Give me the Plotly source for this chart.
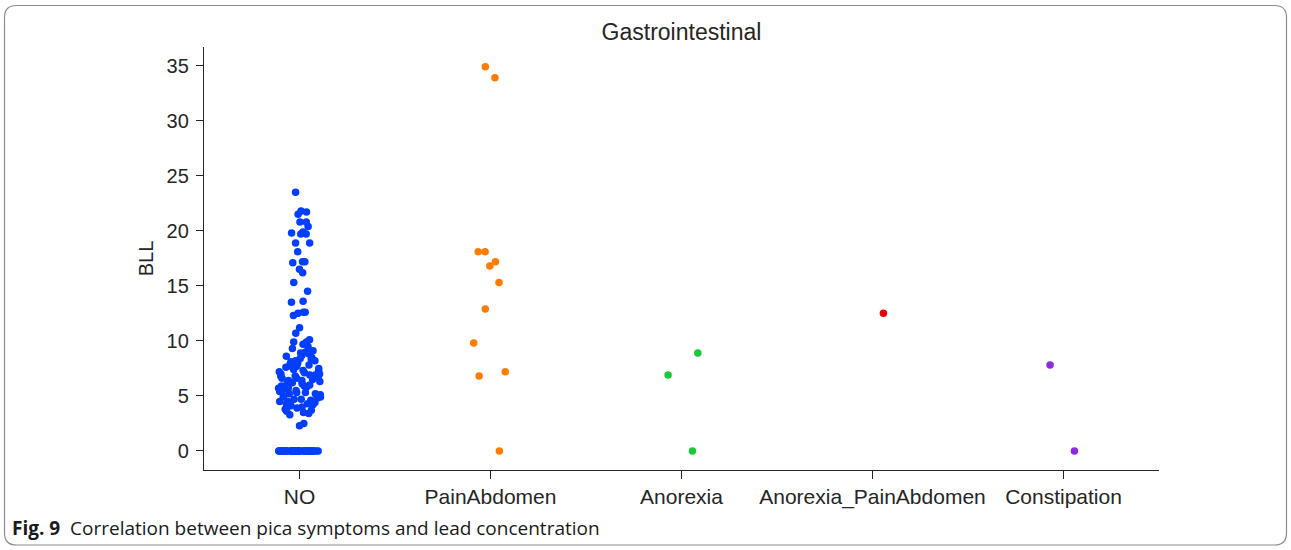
import plotly.graph_objects as go

# Symptom groups along the x axis
categories = ["NO", "PainAbdomen", "Anorexia", "Anorexia_PainAbdomen", "Constipation"]

# Blood lead level (BLL) per child, grouped by gastrointestinal symptom
bll_no = [
    23.5, 21.7, 21.8, 21.5, 20.8, 20.8, 20.4, 19.9, 19.8, 19.7, 19.7, 18.9, 18.9,
    18.1, 17.2, 17.2, 17.1, 16.5, 16.2, 15.3, 14.5, 13.6, 13.5, 12.6, 12.6, 12.5,
    12.3, 11.2, 10.7, 10.1,
    9.9, 9.9, 9.7, 9.5, 9.3, 9.0, 8.9, 8.8, 8.6, 8.5, 8.3, 8.2, 8.2, 8.0, 7.9,
    7.7, 7.7, 7.6, 7.4, 7.3, 7.3, 7.1, 7.0, 6.9, 6.8, 6.8, 6.6, 6.5, 6.4, 6.3,
    6.2, 6.1, 6.1, 5.9, 5.8, 5.8, 5.7, 5.5, 5.4, 5.3, 5.2, 5.1, 5.0, 4.9, 4.8,
    4.7, 4.6, 4.5, 4.5, 4.3, 4.2, 4.1, 3.9, 3.8, 3.6, 3.4, 3.3, 2.5, 2.3, 7.8,
    6.7, 5.6, 4.4, 8.7, 9.1, 6.0, 5.2, 7.2, 4.9, 3.7, 8.4, 7.5, 6.6, 5.9, 5.3,
    4.7, 4.0, 6.4, 7.0, 5.5, 4.3, 8.1, 6.9, 5.7, 3.5,
    0, 0, 0, 0, 0, 0, 0, 0, 0, 0, 0, 0, 0, 0, 0, 0, 0, 0, 0, 0,
    0, 0, 0, 0, 0, 0, 0, 0, 0, 0, 0, 0, 0, 0, 0, 0, 0, 0, 0, 0,
    0, 0, 0, 0, 0, 0, 0, 0, 0, 0,
]
bll_pain_abdomen = [34.9, 33.9, 18.1, 18.1, 17.2, 16.8, 15.3, 12.9, 9.8, 7.2, 6.8, 0]
bll_anorexia = [8.9, 6.9, 0]
bll_anorexia_pain = [12.5]
bll_constipation = [7.8, 0]

groups = [bll_no, bll_pain_abdomen, bll_anorexia, bll_anorexia_pain, bll_constipation]
colors = ["#023eff", "#ff7c00", "#1ac938", "#e8000b", "#8b2be2"]
y_ticks = [0, 5, 10, 15, 20, 25, 30, 35]

W, H = 1291, 550
ML, MR, MT, MB = 204, 132, 47, 80
PW, PH = W - ML - MR, H - MT - MB

fig = go.Figure()
for cat, vals, col in zip(categories, groups, colors):
    fig.add_trace(go.Box(
        x=[cat] * len(vals), y=vals, name=cat,
        boxpoints="all", jitter=0.45, pointpos=0,
        fillcolor="rgba(0,0,0,0)", line=dict(color="rgba(0,0,0,0)", width=0),
        marker=dict(color=col, size=7.5, line=dict(width=0)),
        showlegend=False, hoveron="points",
    ))

axis_color = "#262626"
font_main = "Liberation Sans, Arial, sans-serif"


def px_x(p):
    return (p - ML) / PW


def px_y(p):
    return (H - MB - p) / PH


# Rounded frame around the whole figure
x0, x1, y0, y1, r = 4.5, 1286.5, 5.5, 545, 12
frame = (
    f"M {px_x(x0 + r)} {px_y(y0)} L {px_x(x1 - r)} {px_y(y0)} "
    f"Q {px_x(x1)} {px_y(y0)} {px_x(x1)} {px_y(y0 + r)} "
    f"L {px_x(x1)} {px_y(y1 - r)} Q {px_x(x1)} {px_y(y1)} {px_x(x1 - r)} {px_y(y1)} "
    f"L {px_x(x0 + r)} {px_y(y1)} Q {px_x(x0)} {px_y(y1)} {px_x(x0)} {px_y(y1 - r)} "
    f"L {px_x(x0)} {px_y(y0 + r)} Q {px_x(x0)} {px_y(y0)} {px_x(x0 + r)} {px_y(y0)} Z"
)

fig.update_layout(
    width=W, height=H,
    margin=dict(l=ML, r=MR, t=MT, b=MB, pad=0),
    paper_bgcolor="white", plot_bgcolor="white",
    boxmode="overlay",
    title=dict(text="Gastrointestinal", x=0.5, xref="paper", xanchor="center",
               y=1 - 32 / H, yref="container", yanchor="middle",
               font=dict(family=font_main, size=23, color=axis_color)),
    xaxis=dict(
        type="category", categoryorder="array", categoryarray=categories,
        range=[-0.5, 4.5], showline=True, linecolor=axis_color, linewidth=1.3,
        ticks="outside", ticklen=8, tickwidth=1.3, tickcolor=axis_color,
        showgrid=False, zeroline=False,
        tickfont=dict(family=font_main, size=21, color=axis_color),
    ),
    yaxis=dict(
        range=[-1.73, 36.7], tickvals=y_ticks, showline=True, linecolor=axis_color,
        linewidth=1.3, ticks="outside", ticklen=7, tickwidth=1.3, tickcolor=axis_color,
        showgrid=False, zeroline=False, ticklabelstandoff=3,
        tickfont=dict(family=font_main, size=20, color=axis_color),
        title=dict(text="BLL", standoff=7,
                   font=dict(family=font_main, size=20, color=axis_color)),
    ),
    shapes=[dict(type="path", path=frame, xref="paper", yref="paper",
                 line=dict(color="#8c8c8c", width=1.2), fillcolor="rgba(0,0,0,0)")],
    annotations=[dict(
        text="<b>Fig. 9</b>  Correlation between pica symptoms and lead concentration",
        x=px_x(10), y=px_y(528), xref="paper", yref="paper",
        xanchor="left", yanchor="middle", showarrow=False,
        font=dict(family="Open Sans, sans-serif", size=19, color="#1a1a1a"),
    )],
)

fig.write_html("out.html")
